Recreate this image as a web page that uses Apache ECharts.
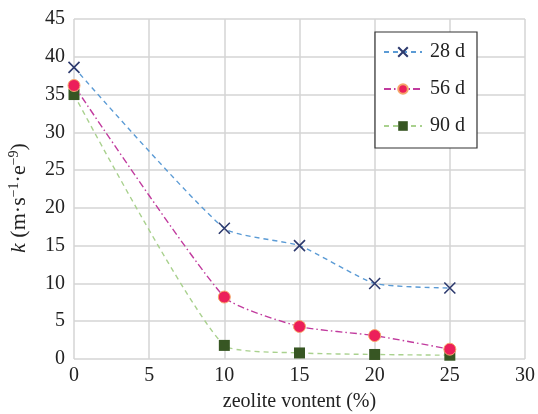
<!DOCTYPE html>
<html><head><meta charset="utf-8">
<script src="https://cdn.jsdelivr.net/npm/echarts@6/dist/echarts.min.js"></script>
<style>html,body{margin:0;padding:0;background:#fff}#c{width:538px;height:414px}</style>
</head><body><div id="c"></div>
<script>
const xValues = [0, 10, 15, 20, 25];
const s28 = [38.6, 17.3, 15.0, 10.0, 9.4];
const s56 = [36.2, 8.2, 4.3, 3.1, 1.3];
const s90 = [35.0, 1.8, 0.8, 0.6, 0.5];
const seriesNames = ['28 d', '56 d', '90 d'];

const font = 'Liberation Serif, Times New Roman, serif';
const pair = (arr) => xValues.map((x, i) => [x, arr[i]]);
const chart = echarts.init(document.getElementById('c'));
chart.setOption({
  animation: false,
  grid: {left: 74, right: 13, top: 19, bottom: 55, containLabel: false, outerBoundsMode: 'none'},
  xAxis: {
    type: 'value', min: 0, max: 30, interval: 5,
    name: 'zeolite vontent (%)', nameLocation: 'middle', nameGap: 33,
    nameTextStyle: {fontFamily: font, fontSize: 20, color: '#222'},
    axisLine: {show: false}, axisTick: {show: false},
    axisLabel: {fontFamily: font, fontSize: 20, color: '#222', margin: 7},
    splitLine: {show: true, lineStyle: {color: '#d4d4d4', width: 1.5}}
  },
  yAxis: {
    type: 'value', min: 0, max: 45, interval: 5,
    name: '{i|k} (m·s{s|−1}·e{s|−9})', nameLocation: 'middle', nameGap: 43,
    nameTextStyle: {fontFamily: font, fontSize: 22, color: '#222', padding: [0, 18, 0, 0],
      rich: {i: {fontStyle: 'italic', fontFamily: font, fontSize: 22, color: '#222'},
             s: {fontSize: 14, fontFamily: font, color: '#222', verticalAlign: 'top', padding: [0,0,10,0]}}},
    axisLine: {show: false}, axisTick: {show: false},
    axisLabel: {fontFamily: font, fontSize: 20, color: '#222', margin: 9},
    splitLine: {show: true, lineStyle: {color: '#d4d4d4', width: 1.5}}
  },
  legend: {
    orient: 'vertical', left: 375, top: 32, width: 100,
    padding: [10, 12, 12, 8], itemGap: 17, itemWidth: 38, itemHeight: 12,
    borderColor: '#333', borderWidth: 1.2, backgroundColor: '#fff',
    textStyle: {fontFamily: font, fontSize: 20, color: '#222', padding: [0, 0, 0, 3]},
    data: seriesNames
  },
  series: [
    {name: seriesNames[0], type: 'line', smooth: 0.18, data: pair(s28),
     symbol: 'path://M0,0L10,10M10,0L0,10', symbolSize: 11,
     itemStyle: {color: 'rgba(0,0,0,0)', borderColor: '#2d3a6e', borderWidth: 1.6},
     lineStyle: {color: '#5b9bd5', width: 1.4, type: [5, 4]}, z: 3},
    {name: seriesNames[1], type: 'line', smooth: 0.18, data: pair(s56),
     symbol: 'circle', symbolSize: 12,
     itemStyle: {color: '#ec1f5a', borderColor: '#f5a66b', borderWidth: 1},
     lineStyle: {color: '#c13b9e', width: 1.4, type: [7, 3, 1.5, 3]}, z: 2},
    {name: seriesNames[2], type: 'line', smooth: 0.18, data: pair(s90),
     symbol: 'rect', symbolSize: 11,
     itemStyle: {color: '#375623', borderColor: '#375623', borderWidth: 0},
     lineStyle: {color: '#a9d18e', width: 1.4, type: [5, 4]}, z: 1}
  ]
});
</script></body></html>
